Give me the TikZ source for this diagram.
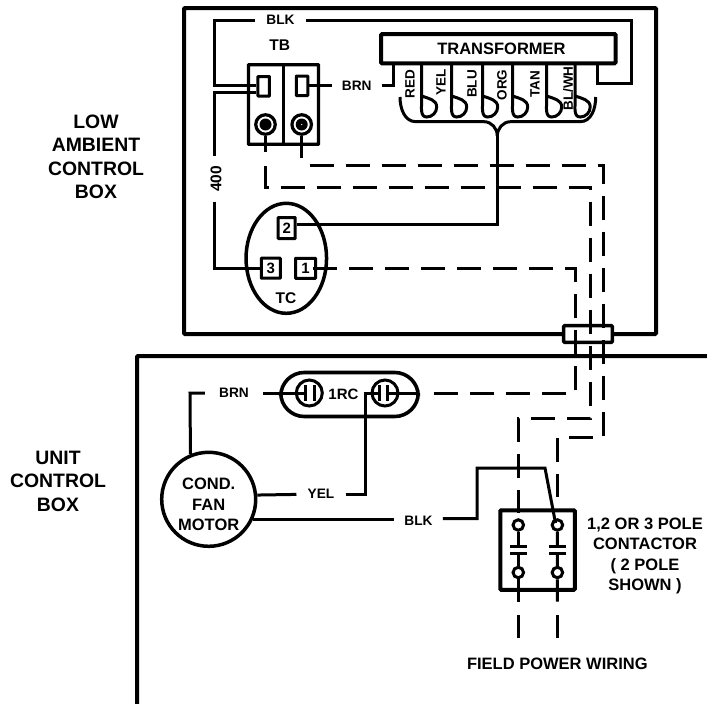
\documentclass[tikz,border=0pt]{standalone}
\usepackage{fontspec}
\setmainfont{Liberation Sans}
\usetikzlibrary{positioning,shapes.geometric}

\tikzset{
  wire/.style={line width=3pt},
  dashwire/.style={line width=3pt, dash pattern=on 24pt off 12pt},
  boxline/.style={line width=4pt, rounded corners=1pt},
  txt/.style={font=\bfseries\fontsize{16.5}{20.5}\selectfont, inner sep=0pt, align=center},
  bigtxt/.style={font=\bfseries\fontsize{19.4}{23.5}\selectfont, inner sep=0pt, align=center},
  wirelabel/.style={font=\bfseries\fontsize{13.7}{15}\selectfont, inner xsep=11pt, inner ysep=2pt},
  leadlabel/.style={font=\bfseries\fontsize{13.5}{15}\selectfont, inner sep=0pt, rotate=90},
  pinbox/.style={draw, line width=3pt, rounded corners=0.5pt, fill=white, font=\bfseries\fontsize{15}{16}\selectfont, inner sep=0pt},
  contactdisc/.style={draw, circle, line width=3pt, fill=white, minimum size=10.5pt, inner sep=0pt},
  capdisc/.style={draw, circle, line width=3pt, minimum size=26pt, inner sep=0pt},
  screwdisc/.style={draw, circle, line width=3.2pt, minimum size=19.5pt, inner sep=0pt}
}

\begin{document}
\begin{tikzpicture}[x=1pt,y=1pt]
\useasboundingbox (0,-704) rectangle (707,0);

% the two boxes
\draw[boxline] (184,-8) rectangle (656,-334);
\draw[boxline] (707,-356) -- (137,-356) -- (137,-704);

\node[bigtxt] (LOWBOX) at (96,-157) {LOW\\AMBIENT\\CONTROL\\BOX};
\node[bigtxt] (UNITBOX) at (58,-481) {UNIT\\CONTROL\\BOX};

% transformer and its leads
\node[draw, boxline, minimum width=234.5pt, minimum height=29.2pt] (TRANS) at (498.3,-48.7) {};
\node[txt] (TRANSTXT) at (501.5,-48.7) {TRANSFORMER};
\coordinate (TL1) at (421.7,-63);
\coordinate [right=30 of TL1] (TL2);
\coordinate [right=31 of TL2] (TL3);
\coordinate [right=30 of TL3] (TL4);
\coordinate [right=34 of TL4] (TL5);
\coordinate [right=28.5 of TL5] (TL6);
\draw[wire] (TL1) -- ++(0,-37) to [out=-90, in=180] ++(5,-17) to [out=0, in=-90] ++(10,10) to [out=90, in=-20] ++(-15,11);
\draw[wire] (TL2) -- ++(0,-37) to [out=-90, in=180] ++(5,-17) to [out=0, in=-90] ++(10,10) to [out=90, in=-20] ++(-15,11);
\draw[wire] (TL3) -- ++(0,-37) to [out=-90, in=180] ++(5,-17) to [out=0, in=-90] ++(10,10) to [out=90, in=-20] ++(-15,11);
\draw[wire] (TL4) -- ++(0,-37) to [out=-90, in=180] ++(5,-17) to [out=0, in=-90] ++(10,10) to [out=90, in=-20] ++(-15,11);
\draw[wire] (TL5) -- ++(0,-37) to [out=-90, in=180] ++(5,-17) to [out=0, in=-90] ++(10,10) to [out=90, in=-20] ++(-15,11);
\draw[wire] (TL6) -- ++(0,-37) to [out=-90, in=180] ++(5,-17) to [out=0, in=-90] ++(10,10) to [out=90, in=-20] ++(-15,11);
\node[leadlabel] (LRED) at (410,-84) {RED};
\node[leadlabel] (LYEL) at (441,-82.5) {YEL};
\node[leadlabel] (LBLU) at (472,-84) {BLU};
\node[leadlabel] (LORG) at (502,-85) {ORG};
\node[leadlabel] (LTAN) at (535,-84) {TAN};
\node[leadlabel] (LBLW) at (568,-88.5) {BL/WH};

% lead bracket and common wire
\coordinate (KBR1) at (400,-97);
\coordinate (KBR2) at (595.7,-97);
\coordinate (KBR3) at (497.3,-136);
\coordinate (KBL) at (416,-121.7);
\coordinate (KBR) at (580,-121.7);
\draw[wire] (KBR1) to [out=-90, in=180] (KBL) -- (484,-121.7) to [out=0, in=90] (KBR3);
\draw[wire] (KBR2) to [out=-90, in=0] (KBR) -- (510.6,-121.7) to [out=180, in=90] (KBR3);

% terminal block
\node[draw, line width=3.2pt, rounded corners=0.5pt, minimum width=70pt, minimum height=79.5pt, inner sep=0pt] (TBLOCK) at (283.5,-104.5) {};
\draw[line width=3.2pt] (TBLOCK.north) -- (TBLOCK.south);
\node[pinbox, minimum width=11.5pt, minimum height=19.5pt] (TBA) at (263.7,-86.3) {};
\node[pinbox, minimum width=11.5pt, minimum height=19.5pt] (TBB) at (302,-85.8) {};
\node[txt, font=\bfseries\fontsize{15.5}{16}\selectfont] (TBNAME) at (279.7,-45) {TB};
\node[screwdisc] (SCA) at (265.5,-124.5) {};
\node[screwdisc] (SCB) at (301.7,-124.5) {};
\fill (SCA) circle (6pt);
\fill (SCB) circle (6pt);
\fill[white] (SCB) circle (0.7pt);

% timer
\node[draw, ellipse, line width=3.5pt, minimum width=80.5pt, minimum height=110pt, inner sep=0pt] (TCOVAL) at (286.3,-258.3) {};
\node[pinbox, minimum width=17pt, minimum height=21pt] (PIN2) at (286.7,-228) {2};
\node[pinbox, minimum width=19pt, minimum height=20pt] (PIN3) at (270.8,-268.2) {3};
\node[pinbox, minimum width=20pt, minimum height=20pt] (PIN1) at (305.5,-268.3) {1};
\node[txt, font=\bfseries\fontsize{15.5}{16}\selectfont] (TCNAME) at (286,-298.3) {TC};

% solid wires in the upper box
\node[wirelabel] (LBLK1) at (280.5,-20) {BLK};
\coordinate (KB1) at (214.7,-20);
\coordinate (KB2) at (214.7,-85);
\coordinate (KB3) at (631,-20);
\coordinate (KB4) at (631,-83);
\coordinate (KB5) at (597,-83);
\coordinate (KB6) at (597,-63);
\draw[wire] (LBLK1) -- (KB1) -- (KB2) -- ([yshift=1.3pt]TBA.west);
\draw[wire] (LBLK1) -- (KB3) -- (KB4) -- (KB5) -- (KB6);
\node[wirelabel, inner xsep=10pt] (LBRN1) at (356.7,-85.8) {BRN};
\coordinate (KB7) at (393,-85.8);
\coordinate (KB8) at (393,-63);
\draw[wire] (TBB) -- (LBRN1);
\draw[wire] (LBRN1) -- (KB7) -- (KB8);
\node[leadlabel, font=\bfseries\fontsize{15.5}{16}\selectfont, inner xsep=9.5pt] (L400) at (216,-179) {400};
\coordinate (KW1) at (214.7,-92);
\coordinate (KW2) at (214.7,-268.2);
\draw[wire] ([yshift=-5.7pt]TBA.west) -- (KW1) -- (KW1 |- L400.east);
\draw[wire] (L400.west -| KW2) -- (KW2) -- (PIN3);
\draw[wire] (SCA.south) -- (265.5,-152);
\draw[wire] (SCB.south) -- (301.7,-158);
\draw[wire] (KBR3) |- ([yshift=3.7pt]PIN2.east);

% connector bar through both boxes
\node[draw, line width=3.5pt, rounded corners=1pt, fill=white, minimum width=48.6pt, minimum height=16.6pt, inner sep=0pt] (BAR) at (588,-334) {};

% lower box parts
\node[draw, circle, line width=3.5pt, minimum size=94pt, inner sep=0pt] (MOTOR) at (208.7,-499.3) {};
\node[txt] (MOTORTXT) at (208.7,-504.5) {COND.\\FAN\\MOTOR};
\node[draw, line width=3.6pt, rounded corners=23.5pt, minimum width=137.5pt, minimum height=44pt, inner sep=0pt] (RCBODY) at (349.5,-394.5) {};
\node[txt, font=\bfseries\fontsize{15}{16}\selectfont] (RCNAME) at (343.5,-394) {1RC};
\node[capdisc] (CAPL) at (309.3,-393) {};
\node[capdisc] (CAPR) at (385,-393) {};
\draw[wire] (305,-385) -- (305,-401);
\draw[wire] (314,-385) -- (314,-401);
\draw[wire] (379,-385) -- (379,-401);
\draw[wire] (387.3,-385) -- (387.3,-401);

\node[wirelabel, inner xsep=14pt] (LBRN2) at (234,-393) {BRN};
\coordinate (KM1) at (190,-393);
\coordinate (KCL) at (305,-393);
\draw[wire] (MOTOR.112) -- (KM1) -- (LBRN2);
\draw[wire] (LBRN2) -- (KCL);
\node[wirelabel] (LYEL2) at (321,-494) {YEL};
\coordinate (KM2) at (365,-494);
\coordinate (KM3) at (365,-393);
\coordinate (KCR) at (379,-393);
\draw[wire] (MOTOR.5) -- (LYEL2);
\draw[wire] (LYEL2) -- (KM2) -- (KM3) -- (KCR);
\coordinate (KCE) at (417,-393);
\draw[wire] (387.3,-393) -- (KCE);

% contactor
\node[draw, boxline, minimum width=74.5pt, minimum height=79.5pt, inner sep=0pt] (CONT) at (537.5,-550) {};
\node[contactdisc] (CT1) at (518.3,-525) {};
\node[contactdisc, below=34pt of CT1] (CT2) {};
\node[contactdisc, right=25.6pt of CT1] (CT3) {};
\node[contactdisc, below=34pt of CT3] (CT4) {};
\coordinate (CP1) at (518.3,-546.7);
\coordinate (CP2) at (518.3,-553.3);
\coordinate (CP3) at (557.4,-546.7);
\coordinate (CP4) at (557.4,-553.3);
\draw[wire] (CT1) -- (CP1);
\draw[wire] (CT3) -- (CP3);
\draw[wire] (CT2) -- (CP2);
\draw[wire] (CT4) -- (CP4);
\draw[wire] ([xshift=-8.3pt]CP1) -- ([xshift=8.3pt]CP1);
\draw[wire] ([xshift=-8.3pt]CP2) -- ([xshift=8.3pt]CP2);
\draw[wire] ([xshift=-8.3pt]CP3) -- ([xshift=8.3pt]CP3);
\draw[wire] ([xshift=-8.3pt]CP4) -- ([xshift=8.3pt]CP4);
\draw[wire] (CT2) -- (518.3,-601.7);
\draw[wire] (CT4) -- (557.4,-601.7);
\draw[wire] (518.3,-615) -- (518.3,-638.3);
\draw[wire] (557.4,-615) -- (557.4,-638.3);

\node[wirelabel, inner xsep=10pt] (LBLK2) at (418.5,-521) {BLK};
\coordinate (KN1) at (477,-518.5);
\coordinate (KN2) at (477,-468);
\coordinate (KN3) at (545,-468);
\coordinate (KN4) at (555.5,-523);
\draw[wire] (MOTOR.-25) -- (MOTOR.-25 -| LBLK2.west);
\draw[wire] (KN1 -| LBLK2.east) -- (KN1) -- (KN2) -- (KN3) -- (KN4);

% field wires
\coordinate (KA1) at (265.5,-166);
\coordinate (KA2) at (265.5,-187);
\coordinate (KA3) at (590,-187);
\coordinate (KA4) at (590,-418);
\coordinate (KA5) at (518.3,-418);
\coordinate (KA6) at (518.3,-512.7);
\draw[dashwire] (KA1) -- (KA2) -- (KA3) -- (KA4) -- (KA5) -- (KA6);
\coordinate (KD1) at (309.5,-165);
\coordinate (KD2) at (603,-165);
\coordinate (KD3) at (603,-437);
\coordinate (KD4) at (557.4,-437);
\coordinate (KD5) at (557.4,-497);
\draw[dashwire] (KD1) -- (KD2) -- (KD3) -- (KD4) -- (KD5);
\coordinate (KF1) at (575,-268.3);
\coordinate (KF2) at (575,-393);
\coordinate (KF3) at (433,-393);
\draw[dashwire] ([xshift=-4pt]PIN1.east) -- (KF1) -- (KF2) -- (KF3);

\node[txt] (CONTTXT) at (645,-556) {1,2 OR 3 POLE\\CONTACTOR\\( 2 POLE\\SHOWN )};
\node[txt] (FIELDTXT) at (557.3,-664) {FIELD POWER WIRING};
\end{tikzpicture}
\end{document}
